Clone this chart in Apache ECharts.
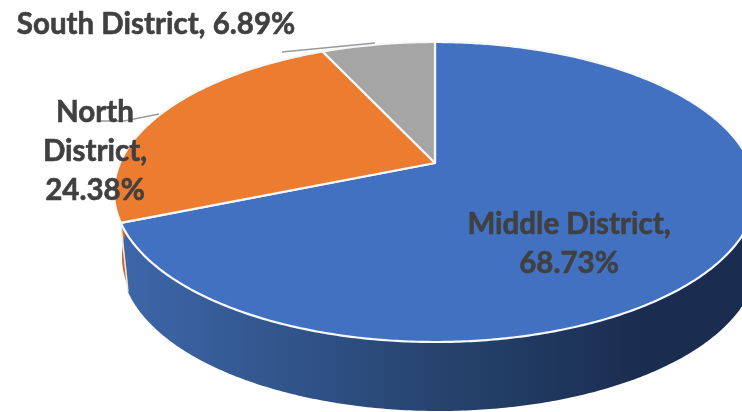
<!DOCTYPE html>
<html><head><meta charset="utf-8">
<style>html,body{margin:0;padding:0;background:#fff}#c{width:742px;height:412px}</style>
<script src="https://cdn.jsdelivr.net/npm/echarts@6/dist/echarts.min.js"></script>
</head><body><div id="c"></div>
<script>
const categories = ['Middle District', 'North District', 'South District'];
const values = [68.73, 24.38, 6.89];
const colors = ['#4271c2', '#ec7c30', '#a5a5a5'];

const CX = 435, CY = 163, RX = 315, RY = 144.4, K = -0.1933, DEPTH = 69, WALL_SCALE = 0.99, WALL_SHIFT = 4;
const total = values.reduce((a, b) => a + b, 0);
const starts = [];
values.reduce((acc, v, i) => { starts[i] = acc; return acc + v; }, 0);
const ang = p => p / total * 2 * Math.PI;
function rim(t, scale, dy, dx) {
  const u = Math.sin(t), v = -Math.cos(t), d = 1 + K * v;
  return [CX + (dx || 0) + RX * scale * u / d, CY + RY * v / d + dy];
}
function arc(a, b, scale, dy, dx) {
  const n = Math.max(2, Math.ceil(Math.abs(b - a) / 0.01)), out = [];
  for (let i = 0; i <= n; i++) out.push(rim(a + (b - a) * i / n, scale, dy, dx));
  return out;
}
const wallFill = {
  type: 'linear', global: true, x: 125, y: 0, x2: 742, y2: 0,
  colorStops: [{offset: 0, color: '#3d66a9'}, {offset: 0.5, color: '#26446f'}, {offset: 0.85, color: '#1a2c4f'}, {offset: 1, color: '#1a2c4f'}]
};
const data = categories.map((c, i) => ({name: c, value: values[i]}));

function renderWall(params) {
  const i = params.dataIndex;
  const a = ang(starts[i]), b = ang(starts[i] + values[i]);
  if (i === 0) {
    const s = 1.0;
    const pts = arc(s, b, 1, 0).concat(arc(b, s, WALL_SCALE, DEPTH, WALL_SHIFT));
    return {type: 'polygon', shape: {points: pts}, style: {fill: wallFill}};
  }
  if (i === 1) {
    const e = a + 0.75;
    const pts = arc(a, e, 1, 0).concat(arc(e, a, 0.975, 65, 0));
    const edge = [rim(a, 1, 0), rim(a, WALL_SCALE, DEPTH, WALL_SHIFT)];
    return {type: 'group', children: [
      {type: 'polygon', shape: {points: pts}, style: {fill: '#c96a26'}},
      {type: 'polyline', shape: {points: edge}, style: {stroke: '#e4e8ef', lineWidth: 1.5, fill: null}}
    ]};
  }
  return {type: 'group', children: []};
}
function renderTop(params, api) {
  const i = params.dataIndex;
  const a = ang(starts[i]), b = ang(starts[i] + values[i]);
  const pts = [[CX, CY]].concat(arc(a, b, 1, 0));
  return {type: 'polygon', shape: {points: pts},
    style: {fill: colors[i], stroke: '#f6f8fb', lineWidth: 2.2, lineJoin: 'round'}};
}
const labelStyle = {font: 'bold 29.5px Lato, sans-serif', fill: '#404040', stroke: '#404040', lineWidth: 0.6, textAlign: 'center', textVerticalAlign: 'middle', lineHeight: 39};
const labelSpots = [
  {x: 569, y: 244, text: i => categories[i] + ',\n' + values[i].toFixed(2) + '%'},
  {x: 95, y: 151, text: i => 'North\nDistrict,\n' + values[i].toFixed(2) + '%'},
  {x: 156, y: 24, text: i => categories[i] + ', ' + values[i].toFixed(2) + '%'}
];
const leaders = [null, [[100, 121], [124, 121], [159, 114]], [[282, 52], [375, 43]]];
function renderLabel(params) {
  const i = params.dataIndex, s = labelSpots[i], children = [];
  if (leaders[i]) children.push({type: 'polyline', shape: {points: leaders[i]}, style: {stroke: '#9a9a9a', lineWidth: 1.3, fill: null}});
  children.push({type: 'text', x: s.x, y: s.y, style: Object.assign({text: s.text(i)}, labelStyle)});
  return {type: 'group', children};
}
const chart = echarts.init(document.getElementById('c'), null, {renderer: 'canvas'});
chart.setOption({
  animation: false,
  backgroundColor: '#fff',
  series: [
    {type: 'custom', coordinateSystem: 'none', z: 1, data, renderItem: renderWall, silent: true},
    {type: 'custom', coordinateSystem: 'none', z: 2, data, renderItem: renderTop, silent: true},
    {type: 'custom', coordinateSystem: 'none', z: 3, data, renderItem: renderLabel, silent: true}
  ]
});
</script></body></html>
